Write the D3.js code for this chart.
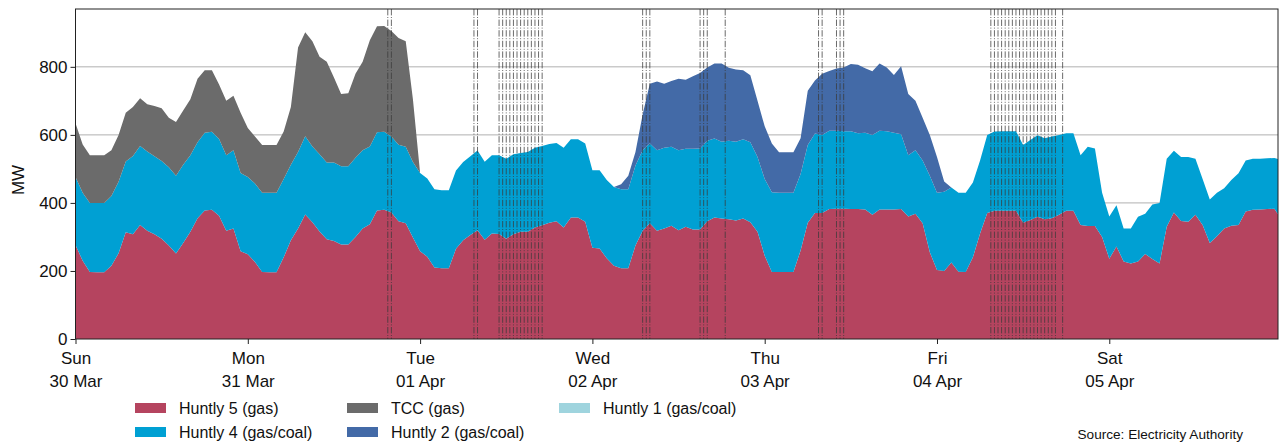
<!DOCTYPE html>
<html>
<head>
<meta charset="utf-8">
<script src="https://cdn.jsdelivr.net/npm/d3@7"></script>
<style>
  body { margin: 0; background: #fff; }
  svg { font-family: "Liberation Sans", Arial, Helvetica, sans-serif; }
</style>
</head>
<body>
<svg id="chart" width="1279" height="443"></svg>
<script>
// Hourly generation (MW) for the Huntly units and TCC, from Sun 30 Mar 2025 00:00.
const seriesStart = Date.UTC(2025, 2, 30, 0, 0);
const seriesEnd = Date.UTC(2025, 3, 5, 23, 30);

const huntly5 = [
  276,230,197,196,196,215,252,314,308,335,
  318,308,295,275,251,282,315,355,378,380,
  362,318,325,258,249,226,197,196,196,240,
  290,325,366,343,316,293,288,278,278,300,
  325,337,378,380,372,346,340,298,258,242,
  210,208,208,265,290,306,320,292,310,309,
  295,308,315,315,328,334,342,346,328,357,
  357,345,268,266,237,215,208,208,275,318,
  340,318,325,333,320,330,322,322,346,357,
  354,352,348,354,343,315,245,197,197,197,
  197,260,342,370,370,382,383,383,382,382,
  381,365,381,381,381,382,360,368,340,255,
  203,200,225,198,197,240,310,370,377,377,
  377,377,342,350,359,352,355,365,377,377,
  335,332,332,300,236,272,228,222,228,250,
  235,222,330,372,347,345,365,335,282,302,
  325,333,335,375,380,381,382,383,350
];

const huntly4 = [
  200,200,203,204,204,205,210,208,230,232,
  233,229,228,230,229,230,225,223,228,229,
  226,222,230,230,227,231,233,234,234,230,
  222,225,230,223,227,226,231,230,230,233,
  230,229,230,229,223,225,225,222,230,230,
  230,229,229,230,230,231,234,229,230,231,
  235,235,232,235,234,233,231,230,234,230,
  230,230,228,230,230,232,232,232,235,237,
  235,237,237,232,235,229,237,238,237,232,
  226,231,232,233,235,220,225,234,233,233,
  233,225,228,234,230,230,229,228,229,223,
  225,235,231,230,225,220,180,187,185,225,
  227,233,220,232,233,220,215,230,233,234,
  234,234,228,235,240,238,240,235,228,228,
  205,233,228,130,124,121,97,103,131,118,
  160,178,200,181,188,190,165,135,128,128,
  118,134,152,150,150,149,149,149,176
];

const tcc = [
  158,142,140,140,140,135,138,143,144,141,
  139,148,155,145,158,160,165,187,184,181,
  160,160,160,177,144,138,140,140,140,140,
  170,307,306,309,287,296,250,212,214,247,
  260,312,311,311,310,314,310,185,0,0,
  0,0,0,0,0,0,0,0,0,0,
  0,0,0,0,0,0,0,0,0,0,
  0,0,0,0,0,0,0,0,0,0,
  0,0,0,0,0,0,0,0,0,0,
  0,0,0,0,0,0,0,0,0,0,
  0,0,0,0,0,0,0,0,0,0,
  0,0,0,0,0,0,0,0,0,0,
  0,0,0,0,0,0,0,0,0,0,
  0,0,0,0,0,0,0,0,0,0,
  0,0,0,0,0,0,0,0,0,0,
  0,0,0,0,0,0,0,0,0,0,
  0,0,0,0,0,0,0,0,0
];

const huntly2 = [
  0,0,0,0,0,0,0,0,0,0,
  0,0,0,0,0,0,0,0,0,0,
  0,0,0,0,0,0,0,0,0,0,
  0,0,0,0,0,0,0,0,0,0,
  0,0,0,0,0,0,0,0,0,0,
  0,0,0,0,0,0,0,0,0,0,
  0,0,0,0,0,0,0,0,0,0,
  0,0,0,0,0,0,15,40,40,105,
  175,202,188,193,210,203,213,222,215,221,
  230,214,212,203,197,165,155,144,119,119,
  119,105,160,156,180,176,183,187,197,201,
  190,187,198,187,170,200,180,145,125,120,
  105,30,0,0,0,0,0,0,0,0,
  0,0,0,0,0,0,0,0,0,0,
  0,0,0,0,0,0,0,0,0,0,
  0,0,0,0,0,0,0,0,0,0,
  0,0,0,0,0,0,0,0,0
];

// Huntly 1 did not run during the week; it is listed in the legend only.
const seriesNames = ["Huntly 5 (gas)", "Huntly 4 (gas/coal)", "TCC (gas)", "Huntly 2 (gas/coal)", "Huntly 1 (gas/coal)"];
const seriesColors = ["#b5445f", "#00a0d3", "#6b6b6b", "#436aa7", "#9fd4de"];

// Flagged trading periods, as hours after seriesStart.
const flaggedHours = [
  43.5, 44,
  55.5, 56,
  59, 59.5, 60, 60.5, 61, 61.5, 62, 62.5, 63, 63.5, 64, 64.5, 65,
  79, 79.5, 80,
  87, 87.5, 88,
  90.5,
  103.5, 104,
  106, 106.5, 107,
  127.5, 128, 128.5, 129, 129.5, 130, 130.5, 131, 131.5, 132, 132.5,
  133, 133.5, 134, 134.5, 135, 135.5, 136, 136.5,
  137.5
];

const yTicks = [0, 200, 400, 600, 800];
const yLabel = "MW";
const sourceNote = "Source: Electricity Authority";

const W = 1279, H = 443;
const m = { left: 75.5, right: 1278, top: 9, bottom: 339 };
const axisFont = 17;

const svg = d3.select("#chart");

const hourMs = 3600 * 1000;
const rows = huntly5.map((v, i) => ({
  time: new Date(seriesStart + i * hourMs),
  h5: v, h4: huntly4[i], tcc: tcc[i], h2: huntly2[i]
}));

const x = d3.scaleUtc()
  .domain([new Date(seriesStart), new Date(seriesEnd)])
  .range([m.left, m.right]);
const y = d3.scaleLinear().domain([0, 970]).range([m.bottom, m.top]);

svg.append("defs").append("clipPath").attr("id", "plotClip")
  .append("rect")
  .attr("x", m.left).attr("y", m.top)
  .attr("width", m.right - m.left).attr("height", m.bottom - m.top);

// horizontal grid
svg.append("g").selectAll("line").data(yTicks.slice(1)).join("line")
  .attr("x1", m.left).attr("x2", m.right)
  .attr("y1", d => y(d)).attr("y2", d => y(d))
  .attr("stroke", "#b0b0b0").attr("stroke-width", 1);

const keys = ["h5", "h4", "tcc", "h2"];
const stacked = d3.stack().keys(keys)(rows);

const area = d3.area()
  .x(d => x(d.data.time))
  .y0(d => y(d[0]))
  .y1(d => y(d[1]));

svg.append("g").attr("clip-path", "url(#plotClip)")
  .selectAll("path").data(stacked).join("path")
  .attr("d", area)
  .attr("fill", (d, i) => seriesColors[i]);

// flagged periods as dash-dot verticals
svg.append("g").attr("clip-path", "url(#plotClip)")
  .selectAll("line").data(flaggedHours).join("line")
  .attr("x1", d => x(new Date(seriesStart + d * hourMs)))
  .attr("x2", d => x(new Date(seriesStart + d * hourMs)))
  .attr("y1", m.top).attr("y2", m.bottom)
  .attr("stroke", "#3a3a3a").attr("stroke-opacity", 0.75)
  .attr("stroke-width", 1)
  .attr("stroke-dasharray", "6.4,1.6,1,1.6");

// frame
svg.append("rect")
  .attr("x", m.left).attr("y", m.top)
  .attr("width", m.right - m.left).attr("height", m.bottom - m.top)
  .attr("fill", "none").attr("stroke", "#222").attr("stroke-width", 1);

// y axis
const yAxis = svg.append("g")
  .attr("transform", `translate(${m.left},0)`)
  .call(d3.axisLeft(y).tickValues(yTicks).tickSize(5).tickPadding(3));
yAxis.select(".domain").remove();
yAxis.selectAll("line").attr("stroke", "#222");
yAxis.selectAll("text").attr("font-size", axisFont).attr("fill", "#111")
  .attr("font-family", "Liberation Sans, Arial, sans-serif");

svg.append("text")
  .attr("transform", `translate(24,${(m.top + m.bottom) / 2 + 6}) rotate(-90)`)
  .attr("text-anchor", "middle")
  .attr("font-size", axisFont).attr("fill", "#111")
  .text(yLabel);

// x axis: one tick per day, weekday over date
const dayTicks = d3.utcDay.range(new Date(seriesStart), new Date(seriesEnd));
const fmtDay = d3.utcFormat("%a");
const fmtDate = d3.utcFormat("%d %b");
const xAxis = svg.append("g")
  .attr("transform", `translate(0,${m.bottom})`)
  .call(d3.axisBottom(x).tickValues(dayTicks).tickSize(5).tickFormat(""));
xAxis.select(".domain").remove();
xAxis.selectAll("line").attr("stroke", "#222");
xAxis.selectAll(".tick").each(function (d) {
  const t = d3.select(this).append("text")
    .attr("fill", "#111").attr("font-size", axisFont)
    .attr("text-anchor", "middle")
    .attr("font-family", "Liberation Sans, Arial, sans-serif");
  t.append("tspan").attr("x", 0).attr("y", 25).text(fmtDay(d));
  t.append("tspan").attr("x", 0).attr("y", 48).text(fmtDate(d));
});

// legend, filled column by column
const legendOrder = [0, 1, 2, 3, 4];
const legend = svg.append("g");
legendOrder.forEach((k, j) => {
  const col = Math.floor(j / 2), row = j % 2;
  const gx = 135 + col * 212, gy = 403 + row * 24;
  legend.append("rect")
    .attr("x", gx).attr("y", gy).attr("width", 31).attr("height", 10)
    .attr("fill", seriesColors[k]);
  legend.append("text")
    .attr("x", gx + 44).attr("y", gy + 10.5)
    .attr("font-size", 16).attr("fill", "#111")
    .text(seriesNames[k]);
});

svg.append("text")
  .attr("x", 1243).attr("y", 439)
  .attr("text-anchor", "end")
  .attr("font-size", 13.6).attr("fill", "#111")
  .text(sourceNote);
</script>
</body>
</html>
